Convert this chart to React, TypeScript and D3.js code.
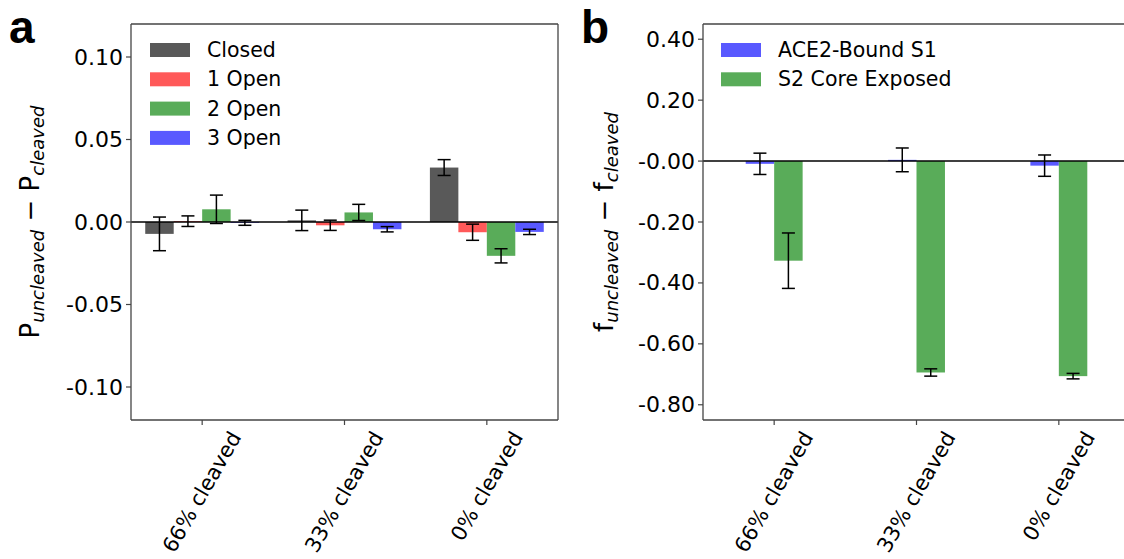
import React from "react";
import * as d3 from "d3";

const categories = ["66% cleaved", "33% cleaved", "0% cleaved"];

const stateNames = ["Closed", "1 Open", "2 Open", "3 Open"];
const closedVals = [-0.0072, 0.001, 0.033];
const closedErr = [0.0102, 0.0062, 0.0048];
const open1Vals = [0.0005, -0.002, -0.0062];
const open1Err = [0.0032, 0.0031, 0.0049];
const open2Vals = [0.0077, 0.0058, -0.0205];
const open2Err = [0.0086, 0.0049, 0.0043];
const open3Vals = [-0.0005, -0.0044, -0.006];
const open3Err = [0.0015, 0.0016, 0.0016];
const stateColors = ["#595959", "#ff5959", "#59ac59", "#5959ff"];

const regionNames = ["ACE2-Bound S1", "S2 Core Exposed"];
const ace2Vals = [-0.009, 0.004, -0.015];
const ace2Err = [0.035, 0.039, 0.035];
const s2Vals = [-0.327, -0.694, -0.706];
const s2Err = [0.091, 0.012, 0.009];
const regionColors = ["#5959ff", "#59ac59"];

const ticksA = [0.1, 0.05, 0, -0.05, -0.1];
const tickLabelsA = ["0.10", "0.05", "0.00", "-0.05", "-0.10"];
const ticksB = [0.4, 0.2, 0, -0.2, -0.4, -0.6, -0.8];
const tickLabelsB = ["0.40", "0.20", "-0.00", "-0.20", "-0.40", "-0.60", "-0.80"];

const FONT = "DejaVu Sans, sans-serif";
const TOP = 24;
const BOTTOM = 420;
const TICK_FS = 22;
const XTICK_FS = 21;

type Series = { name: string; vals: number[]; errs: number[]; color: string };

function Panel(props: {
  x0: number;
  x1: number;
  yDomain: [number, number];
  series: Series[];
  ticks: number[];
  tickLabels: string[];
  rightSpine: boolean;
  legendX: number;
  labelX: number;
  labelMain: string;
}) {
  const { x0, x1, yDomain, series, ticks, tickLabels, rightSpine, legendX, labelX, labelMain } = props;
  const x = d3.scaleLinear().domain([-0.5, 2.5]).range([x0, x1]);
  const y = d3.scaleLinear().domain(yDomain).range([BOTTOM, TOP]);
  const w = 0.2;
  const n = series.length;
  const bw = x(w) - x(0);
  const clipId = "clip" + Math.round(x0);
  const bars: React.ReactNode[] = [];
  const errs: React.ReactNode[] = [];
  series.forEach((s, si) => {
    const off = (si - (n - 1) / 2) * w;
    s.vals.forEach((v, ci) => {
      const cx = x(ci + off);
      const ya = y(Math.max(0, v));
      const yb = y(Math.min(0, v));
      bars.push(
        <rect key={`b${si}-${ci}`} x={cx - bw / 2} y={ya} width={bw} height={Math.max(0, yb - ya)} fill={s.color} />
      );
      const e = s.errs[ci];
      const yt = y(v + e);
      const yl = y(v - e);
      errs.push(
        <g key={`e${si}-${ci}`} stroke="#000" strokeWidth={1.5}>
          <line x1={cx} x2={cx} y1={yt} y2={yl} />
          <line x1={cx - 6.5} x2={cx + 6.5} y1={yt} y2={yt} />
          <line x1={cx - 6.5} x2={cx + 6.5} y1={yl} y2={yl} />
        </g>
      );
    });
  });
  const cy = (TOP + BOTTOM) / 2;
  return (
    <g>
      <defs>
        <clipPath id={clipId}>
          <rect x={x0} y={TOP} width={x1 - x0} height={BOTTOM - TOP} />
        </clipPath>
      </defs>
      <g clipPath={`url(#${clipId})`}>
        {bars}
        <line x1={x0} x2={x1} y1={y(0)} y2={y(0)} stroke="#000" strokeWidth={1.5} />
        {errs}
      </g>
      <g stroke="#444" strokeWidth={1.3} fill="none">
        <line x1={x0} x2={x0} y1={TOP} y2={BOTTOM} />
        <line x1={x0} x2={x1} y1={TOP} y2={TOP} />
        <line x1={x0} x2={x1} y1={BOTTOM} y2={BOTTOM} />
        {rightSpine && <line x1={x1} x2={x1} y1={TOP} y2={BOTTOM} />}
      </g>
      {ticks.map((t, i) => (
        <g key={`yt${i}`}>
          <line x1={x0 - 5} x2={x0} y1={y(t)} y2={y(t)} stroke="#444" strokeWidth={1.2} />
          <text x={x0 - 8} y={y(t)} textAnchor="end" dominantBaseline="central" fontSize={TICK_FS} fontFamily={FONT} fill="#000">
            {tickLabels[i]}
          </text>
        </g>
      ))}
      {categories.map((c, i) => {
        const tx = x(i);
        const L = c.length * 0.585 * XTICK_FS;
        const bx = tx + 0.25 * L + 6;
        return (
          <g key={`xt${i}`}>
            <line x1={tx} x2={tx} y1={BOTTOM} y2={BOTTOM + 5} stroke="#444" strokeWidth={1.2} />
            <text transform={`translate(${bx},${437}) rotate(-60)`} textAnchor="end" fontSize={XTICK_FS} fontFamily={FONT} fill="#000">
              {c}
            </text>
          </g>
        );
      })}
      {series.map((s, i) => {
        const ly = 50 + i * 29.3;
        return (
          <g key={`lg${i}`}>
            <rect x={legendX} y={ly - 7} width={40} height={14} fill={s.color} />
            <text x={legendX + 57} y={ly} dominantBaseline="central" fontSize={20.5} fontFamily={FONT} fill="#000">
              {s.name}
            </text>
          </g>
        );
      })}
      <text transform={`translate(${labelX},${cy}) rotate(-90)`} textAnchor="middle" fontSize={26} fontFamily={FONT} fill="#000">
        {labelMain}
        <tspan fontStyle="italic" fontSize={18} dy={5}>uncleaved</tspan>
        <tspan dy={-5}>{" \u2212 "}{labelMain}</tspan>
        <tspan fontStyle="italic" fontSize={18} dy={5}>cleaved</tspan>
      </text>
    </g>
  );
}

export default function App() {
  const seriesA: Series[] = [
    { name: stateNames[0], vals: closedVals, errs: closedErr, color: stateColors[0] },
    { name: stateNames[1], vals: open1Vals, errs: open1Err, color: stateColors[1] },
    { name: stateNames[2], vals: open2Vals, errs: open2Err, color: stateColors[2] },
    { name: stateNames[3], vals: open3Vals, errs: open3Err, color: stateColors[3] },
  ];
  const seriesB: Series[] = [
    { name: regionNames[0], vals: ace2Vals, errs: ace2Err, color: regionColors[0] },
    { name: regionNames[1], vals: s2Vals, errs: s2Err, color: regionColors[1] },
  ];
  return (
    <svg width={1124} height={559} style={{ position: "absolute", left: 0, top: 0, background: "#fff" }}>
      <rect x={0} y={0} width={1124} height={559} fill="#fff" />
      <Panel
        x0={131}
        x1={558}
        yDomain={[-0.12, 0.12]}
        series={seriesA}
        ticks={ticksA}
        tickLabels={tickLabelsA}
        rightSpine={true}
        legendX={150}
        labelX={39}
        labelMain="P"
      />
      <Panel
        x0={703}
        x1={1130}
        yDomain={[-0.85, 0.45]}
        series={seriesB}
        ticks={ticksB}
        tickLabels={tickLabelsB}
        rightSpine={false}
        legendX={721}
        labelX={613}
        labelMain="f"
      />
      <text x={9} y={43} fontSize={46} fontWeight="bold" fontFamily="Liberation Sans, Arial, sans-serif" fill="#000">
        a
      </text>
      <text x={581} y={43} fontSize={46} fontWeight="bold" fontFamily="Liberation Sans, Arial, sans-serif" fill="#000">
        b
      </text>
    </svg>
  );
}
